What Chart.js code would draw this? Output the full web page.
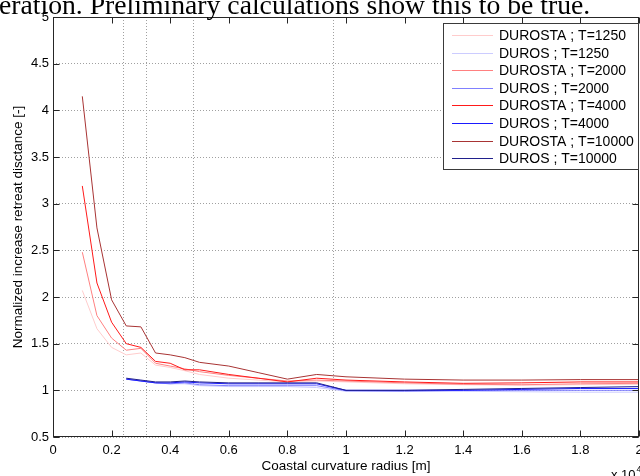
<!DOCTYPE html>
<html><head><meta charset="utf-8">
<script src="https://cdn.jsdelivr.net/npm/chart.js@4.4.0/dist/chart.umd.min.js"></script>
<style>
html,body{margin:0;padding:0;background:#fff;overflow:hidden;width:640px;height:476px;}
#wrap{position:absolute;left:0;top:0;width:700px;height:476px;}
</style></head><body>
<div id="wrap"><canvas id="c" width="700" height="476"></canvas></div>
<script>
// Coastal curvature radius (x 10^4 m)
const radius = [0.1, 0.15, 0.2, 0.25, 0.3, 0.35, 0.4, 0.45, 0.5, 0.6, 0.7, 0.8, 0.9, 1.0, 1.2, 1.4, 1.6, 1.8, 2.0];

const durosta1250  = [2.07, 1.66, 1.46, 1.38, 1.40, 1.27, 1.245, 1.21, 1.17, 1.13, 1.11, 1.09, 1.10, 1.09, 1.07, 1.06, 1.055, 1.06, 1.065];
const duros1250    = [null, null, null, 1.12, 1.10, 1.08, 1.07, 1.07, 1.05, 1.04, 1.04, 1.04, 1.03, 0.99, 0.99, 0.99, 0.985, 0.98, 0.98];
const durosta2000  = [2.48, 1.80, 1.56, 1.43, 1.45, 1.29, 1.26, 1.23, 1.20, 1.16, 1.13, 1.10, 1.11, 1.10, 1.08, 1.065, 1.06, 1.07, 1.075];
const duros2000    = [null, null, null, 1.12, 1.10, 1.08, 1.07, 1.08, 1.06, 1.05, 1.05, 1.05, 1.05, 0.995, 0.99, 1.00, 1.00, 1.00, 1.00];
const durosta4000  = [3.19, 2.15, 1.73, 1.50, 1.46, 1.31, 1.29, 1.22, 1.22, 1.17, 1.13, 1.09, 1.13, 1.11, 1.09, 1.075, 1.08, 1.09, 1.09];
const duros4000    = [null, null, null, 1.12, 1.10, 1.08, 1.08, 1.09, 1.08, 1.07, 1.07, 1.07, 1.07, 1.00, 1.00, 1.00, 1.01, 1.02, 1.02];
const durosta10000 = [4.15, 2.74, 1.97, 1.69, 1.68, 1.40, 1.38, 1.35, 1.30, 1.26, 1.19, 1.12, 1.17, 1.145, 1.12, 1.11, 1.11, 1.115, 1.115];
const duros10000   = [null, null, null, 1.13, 1.11, 1.09, 1.09, 1.10, 1.09, 1.08, 1.08, 1.08, 1.08, 1.00, 1.00, 1.01, 1.02, 1.03, 1.04];

const seriesLabels = ['DUROSTA ; T=1250', 'DUROS ; T=1250', 'DUROSTA ; T=2000', 'DUROS ; T=2000',
                      'DUROSTA ; T=4000', 'DUROS ; T=4000', 'DUROSTA ; T=10000', 'DUROS ; T=10000'];
const seriesColors = ['#ffcccc', '#ccccff', '#ff8080', '#8080ff', '#ff1a1a', '#1a1aff', '#a83434', '#20208c'];
const seriesValues = [durosta1250, duros1250, durosta2000, duros2000, durosta4000, duros4000, durosta10000, duros10000];

const xTicks = [0, 0.2, 0.4, 0.6, 0.8, 1, 1.2, 1.4, 1.6, 1.8, 2];
const xTickLabels = ['0', '0.2', '0.4', '0.6', '0.8', '1', '1.2', '1.4', '1.6', '1.8', '2'];
const yTicks = [0.5, 1, 1.5, 2, 2.5, 3, 3.5, 4, 4.5, 5];
const yTickLabels = ['0.5', '1', '1.5', '2', '2.5', '3', '3.5', '4', '4.5', '5'];
const markerX = [0.2387, 0.3183, 0.4775, 0.9549];

const xTitle = 'Coastal curvature radius [m]';
const yTitle = 'Normalized increase retreat disctance [-]';
const xExponent = ['x 10', '4'];
const paperText = 'eration. Preliminary calculations show this to be true.';

const SANS = '"Liberation Sans", Arial, Helvetica, sans-serif';
Chart.defaults.font.family = SANS;
Chart.defaults.color = '#000';

const datasets = seriesValues.map((vals, i) => ({
  label: seriesLabels[i],
  data: radius.map((r, j) => ({x: r, y: vals[j]})),
  borderColor: seriesColors[i],
  backgroundColor: seriesColors[i],
  borderWidth: 1,
  pointRadius: 0,
  tension: 0,
  fill: false,
  order: seriesValues.length - i
}));

const decor = {
  id: 'decor',
  beforeDatasetsDraw(chart) {
    const {ctx, chartArea: a, scales: {x}} = chart;
    ctx.save();
    ctx.strokeStyle = '#a0a0a0';
    ctx.lineWidth = 1;
    ctx.setLineDash([1, 2]);
    markerX.forEach(v => {
      const px = Math.round(x.getPixelForValue(v)) + 0.5;
      ctx.beginPath();
      ctx.moveTo(px, a.top);
      ctx.lineTo(px, a.bottom);
      ctx.stroke();
    });
    ctx.restore();
  },
  afterDatasetsDraw(chart) {
    const {ctx, chartArea: a, scales: {x, y}} = chart;
    ctx.save();
    ctx.setLineDash([]);
    ctx.strokeStyle = '#262626';
    ctx.lineWidth = 1;
    const L = Math.round(a.left) + 0.5, R = Math.round(a.right) - 0.5;
    const T = Math.round(a.top) + 0.5, B = Math.round(a.bottom) - 0.5;
    ctx.strokeRect(L, T, R - L, B - T);
    const tl = 6;
    ctx.beginPath();
    xTicks.forEach(v => {
      const px = Math.round(x.getPixelForValue(v)) + 0.5;
      ctx.moveTo(px, B); ctx.lineTo(px, B - tl);
      ctx.moveTo(px, T); ctx.lineTo(px, T + tl);
    });
    yTicks.forEach(v => {
      const py = Math.round(y.getPixelForValue(v)) + 0.5;
      ctx.moveTo(L, py); ctx.lineTo(L + tl, py);
      ctx.moveTo(R, py); ctx.lineTo(R - tl, py);
    });
    ctx.stroke();

    // legend box
    const lx = 443.5, ly = 23.5, lw = 195, lh = 146;
    ctx.fillStyle = '#fff';
    ctx.fillRect(lx, ly, lw, lh);
    ctx.strokeStyle = '#3a3a3a';
    ctx.strokeRect(lx, ly, lw, lh);
    ctx.font = '14px ' + SANS;
    ctx.textBaseline = 'middle';
    ctx.textAlign = 'left';
    seriesLabels.forEach((lab, i) => {
      const ry = Math.round(35 + i * 17.6) + 0.5;
      ctx.strokeStyle = seriesColors[i];
      ctx.lineWidth = 1;
      ctx.beginPath();
      ctx.moveTo(452, ry); ctx.lineTo(493, ry);
      ctx.stroke();
      ctx.fillStyle = '#000';
      ctx.fillText(lab, 499, ry + 0.5);
    });
    ctx.restore();
  },
  afterDraw(chart) {
    const {ctx} = chart;
    ctx.save();
    ctx.fillStyle = '#000';
    ctx.textBaseline = 'alphabetic';
    ctx.textAlign = 'left';
    ctx.font = '27.7px "Liberation Serif", "Times New Roman", serif';
    ctx.fillText(paperText, -1, 14);
    ctx.font = '13px ' + SANS;
    ctx.fillText(xExponent[0], 611, 479);
    const w = ctx.measureText(xExponent[0]).width;
    ctx.font = '9px ' + SANS;
    ctx.fillText(xExponent[1], 611 + w + 1, 472);
    ctx.restore();
  }
};

new Chart(document.getElementById('c'), {
  type: 'line',
  data: {datasets},
  options: {
    responsive: false,
    animation: false,
    devicePixelRatio: 1,
    layout: {padding: {left: 0, top: 17, right: 61, bottom: 0}},
    plugins: {legend: {display: false}, tooltip: {enabled: false}},
    scales: {
      x: {
        type: 'linear',
        min: 0, max: 2,
        afterBuildTicks: ax => { ax.ticks = xTicks.map(v => ({value: v})); },
        afterFit: s => { s.height = 39; },
        grid: {display: false, drawTicks: false},
        border: {display: false},
        ticks: {
          autoSkip: false, maxRotation: 0, padding: 6,
          font: {size: 13},
          callback: (v, i) => xTickLabels[i]
        },
        title: {display: true, text: xTitle, font: {size: 13.5}, padding: {top: 0, bottom: 2}}
      },
      y: {
        type: 'linear',
        min: 0.5, max: 5,
        afterBuildTicks: ax => { ax.ticks = yTicks.map(v => ({value: v})); },
        afterFit: s => { s.width = 53; },
        grid: {color: '#a0a0a0', lineWidth: 1, drawTicks: false},
        border: {display: false, dash: [1, 2]},
        ticks: {
          padding: 4,
          font: {size: 13},
          callback: (v, i) => yTickLabels[i]
        },
        title: {display: true, text: yTitle, font: {size: 13.5}, padding: {top: 10, bottom: 0}}
      }
    }
  },
  plugins: [decor]
});
</script>
</body></html>
